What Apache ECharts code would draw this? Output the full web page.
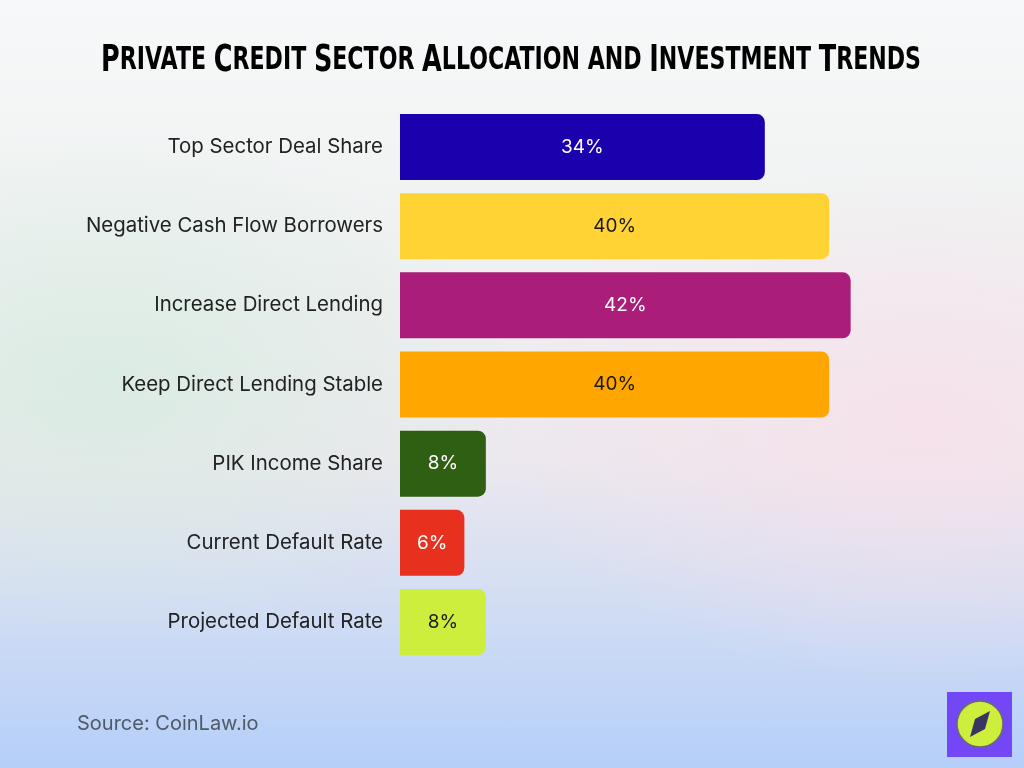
<!DOCTYPE html>
<html>
<head>
<meta charset="utf-8">
<script src="https://cdn.jsdelivr.net/npm/echarts@6/dist/echarts.min.js"></script>
<style>
    html, body {
        margin: 0;
        padding: 0;
    }
    .nBox {
        width: 1024px;
        height: 768px;
        background:
            radial-gradient(ellipse 420px 260px at 10% 50%, rgba(214, 236, 224, 0.8), rgba(214, 236, 224, 0)),
            radial-gradient(ellipse 420px 260px at 90% 55%, rgba(248, 224, 234, 0.8), rgba(248, 224, 234, 0)),
            linear-gradient(180deg, #f6f8f9 0%, #f0f2f2 30%, #ece8ee 60%, #c9d9f5 85%, #b5cff9 100%);
    }
    .echarts {
        width: 100%;
        height: 100%;
    }
</style>
</head>
<body>
<div class="nBox">
    <div class="echarts" id="mainChart"></div>
</div>
<script>
// data
let categories = ['Top Sector Deal Share', 'Negative Cash Flow Borrowers', 'Increase Direct Lending',
    'Keep Direct Lending Stable', 'PIK Income Share', 'Current Default Rate', 'Projected Default Rate']
let values = [34, 40, 42, 40, 8, 6, 8]

// bar colours and label colours
let barColors = ['#1b00ae', '#ffd334', '#aa1d78', '#ffa600', '#2f5f13', '#e8301f', '#cdee3d']
let labelColors = ['#ffffff', '#1a1a1a', '#ffffff', '#1a1a1a', '#ffffff', '#ffffff', '#1a1a1a']

let titleText = 'Private Credit Sector Allocation and Investment Trends'

// small-caps title: capitalised words get a big first letter, the rest is small
let buildTitle = (text) => {
    return text.split(' ').map(w => {
        if (w[0] === w[0].toUpperCase()) {
            return '{big|' + w[0] + '}{small|' + w.slice(1).toUpperCase() + '}'
        }
        return '{small|' + w.toUpperCase() + '}'
    }).join('{small| }')
}

let myChart = echarts.init(document.getElementById('mainChart'))

let option = {
    backgroundColor: 'transparent',
    grid: {
        left: 400,
        right: 87.5,
        top: 107.5,
        bottom: 106.5
    },
    xAxis: {
        type: 'value',
        min: 0,
        max: 50,
        show: false
    },
    yAxis: {
        type: 'category',
        data: categories,
        inverse: true,
        axisLine: { show: false },
        axisTick: { show: false },
        splitLine: { show: false },
        axisLabel: {
            margin: 17,
            fontFamily: 'Inter',
            fontSize: 20.4,
            color: '#222'
        }
    },
    series: [
        {
            type: 'bar',
            barWidth: 66,
            data: values.map((v, i) => ({
                value: v,
                itemStyle: { color: barColors[i] },
                label: { color: labelColors[i] }
            })),
            itemStyle: {
                borderRadius: [0, 8, 8, 0]
            },
            label: {
                show: true,
                position: 'inside',
                formatter: '{c}%',
                fontFamily: 'Inter',
                fontSize: 19
            }
        }
    ],
    graphic: [
        // title, squeezed sideways to look condensed
        {
            type: 'text',
            x: 511,
            y: 61,
            scaleX: 0.69,
            style: {
                text: buildTitle(titleText),
                align: 'center',
                verticalAlign: 'middle',
                rich: {
                    big: {
                        fontFamily: 'DejaVu Sans',
                        fontWeight: 'bold',
                        fontStyle: 'normal',
                        fontSize: 37,
                        fill: '#000'
                    },
                    small: {
                        fontFamily: 'DejaVu Sans',
                        fontWeight: 'bold',
                        fontStyle: 'normal',
                        fontSize: 32,
                        fill: '#000'
                    }
                }
            }
        },
        {
            type: 'text',
            left: 77,
            top: 714,
            style: {
                text: 'Source: CoinLaw.io',
                font: '20px Inter',
                fill: '#4f5a6b'
            }
        },
        // logo
        {
            type: 'rect',
            shape: { x: 947, y: 692, width: 65, height: 65 },
            style: { fill: '#7447f6' }
        },
        {
            type: 'circle',
            shape: { cx: 980, cy: 724, r: 23 },
            style: { fill: '#cdee3d', stroke: '#6b6b6b', lineWidth: 1.5 }
        },
        {
            type: 'polygon',
            shape: { points: [[990, 711], [985, 729], [970, 737], [975, 719]] },
            style: { fill: '#3a3560' }
        }
    ]
}

myChart.setOption(option)
window.addEventListener('resize', function () {
    myChart.resize()
})
</script>
</body>
</html>
